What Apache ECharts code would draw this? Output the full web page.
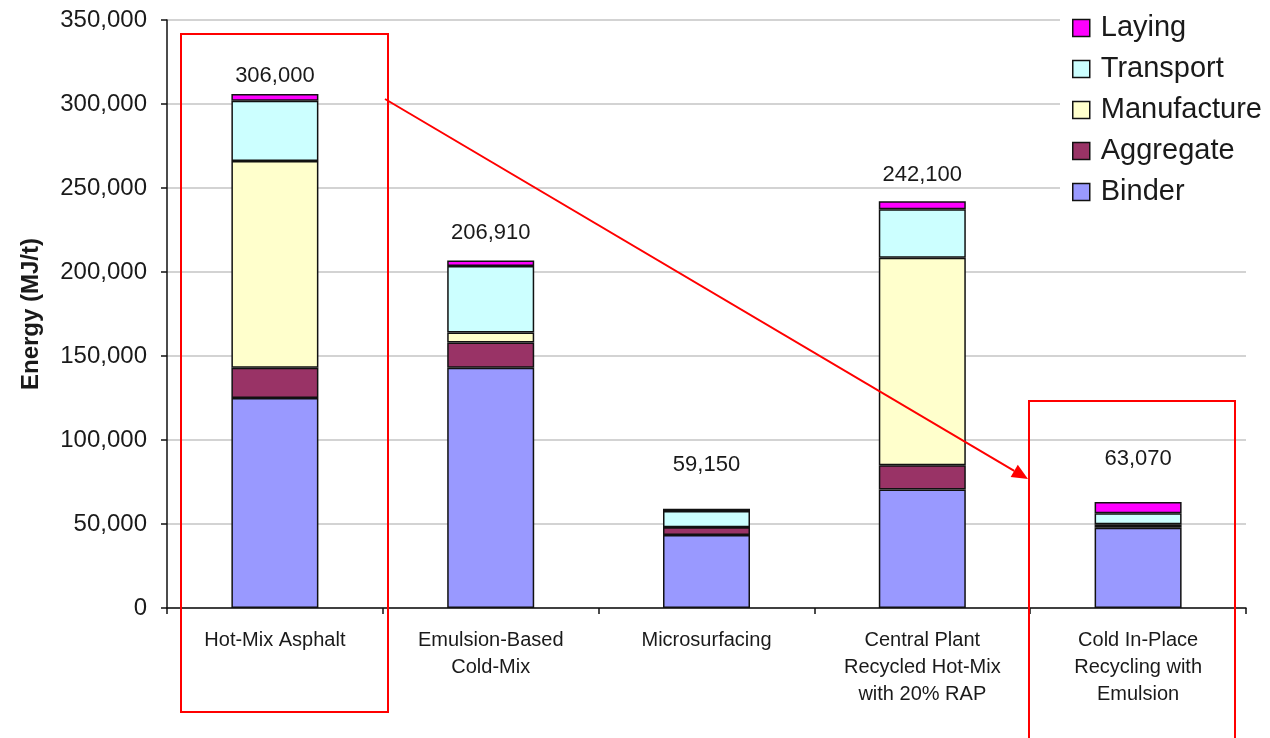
<!DOCTYPE html>
<html>
<head>
<meta charset="utf-8">
<title>Energy by pavement technique</title>
<script src="https://cdn.jsdelivr.net/npm/echarts@6/dist/echarts.min.js"></script>
<style>
  html, body { margin: 0; padding: 0; background: #fff; }
  #chart { width: 1270px; height: 738px; }
</style>
</head>
<body>
<div id="chart"></div>
<script>
// Pavement techniques (x categories)
const categories = [
  'Hot-Mix Asphalt',
  'Emulsion-Based\nCold-Mix',
  'Microsurfacing',
  'Central Plant\nRecycled Hot-Mix\nwith 20% RAP',
  'Cold In-Place\nRecycling with\nEmulsion'
];

// Energy components, MJ/t (stacked bottom to top)
const binder      = [125000, 143000, 43500, 70600, 47800];
const aggregate   = [ 18000,  15000,  4500, 14300,  1000];
const manufacture = [123000,   6000,     0, 123600, 1000];
const transport   = [ 36000,  39500,  9800, 28800,  6570];
const laying      = [  4000,   3410,  1350,  4800,  6700];

// Totals printed above each column
const totals = [306000, 206910, 59150, 242100, 63070];

// Y axis ticks
const yTicks = [0, 50000, 100000, 150000, 200000, 250000, 300000, 350000];

const colors = {
  Binder: '#9999FF',
  Aggregate: '#993366',
  Manufacture: '#FFFFCC',
  Transport: '#CCFFFF',
  Laying: '#FF00FF'
};

// Gap (px) between each column top and its total label
const totalLabelGap = [7, 16, 33, 15, 32];

const FONT = '"Liberation Sans", Arial, sans-serif';
const fmt = v => v.toLocaleString('en-US');

function stackSeries(name, data, withTotal) {
  const s = {
    name: name,
    type: 'bar',
    stack: 'energy',
    barWidth: 87,
    itemStyle: { color: colors[name], borderColor: '#111', borderWidth: 1.5 },
    emphasis: { disabled: true }
  };
  if (withTotal) {
    s.data = data.map((v, i) => ({
      value: v,
      label: {
        show: true,
        position: 'top',
        distance: totalLabelGap[i],
        color: '#1a1a1a',
        fontFamily: FONT,
        fontSize: 22,
        formatter: () => fmt(totals[i])
      }
    }));
  } else {
    s.data = data;
  }
  return s;
}

// Red annotation: two highlight boxes and an arrow between them
const arrowFrom = [385, 99];
const arrowTo = [1028, 479];
function arrowHead(from, to, len, half) {
  const dx = to[0] - from[0], dy = to[1] - from[1];
  const d = Math.hypot(dx, dy);
  const ux = dx / d, uy = dy / d;
  const bx = to[0] - ux * len, by = to[1] - uy * len;
  return {
    base: [bx, by],
    points: [to, [bx - uy * half, by + ux * half], [bx + uy * half, by - ux * half]]
  };
}
const head = arrowHead(arrowFrom, arrowTo, 16, 7);

const chart = echarts.init(document.getElementById('chart'), null, { renderer: 'canvas' });
chart.setOption({
  animation: false,
  backgroundColor: '#fff',
  textStyle: { fontFamily: FONT },
  grid: { left: 167, right: 24, top: 20, bottom: 130, containLabel: false },
  legend: {
    orient: 'vertical',
    left: 1060,
    top: 9,
    padding: [4, 2, 4, 12],
    backgroundColor: '#fff',
    itemWidth: 17,
    itemHeight: 17,
    itemGap: 11,
    icon: 'rect',
    itemStyle: { borderColor: '#111', borderWidth: 1.5 },
    textStyle: { fontFamily: FONT, fontSize: 29, color: '#1a1a1a', lineHeight: 30, padding: [0, 0, 0, 6] },
    data: ['Laying', 'Transport', 'Manufacture', 'Aggregate', 'Binder']
  },
  xAxis: {
    type: 'category',
    data: categories,
    boundaryGap: true,
    axisLine: { lineStyle: { color: '#111', width: 1.5 } },
    axisTick: { show: true, alignWithLabel: false, length: 6, lineStyle: { color: '#111', width: 1.5 } },
    axisLabel: {
      interval: 0,
      margin: 19,
      color: '#1a1a1a',
      fontFamily: FONT,
      fontSize: 20,
      lineHeight: 27
    }
  },
  yAxis: {
    type: 'value',
    min: yTicks[0],
    max: yTicks[yTicks.length - 1],
    interval: yTicks[1] - yTicks[0],
    name: 'Energy (MJ/t)',
    nameLocation: 'middle',
    nameGap: 124,
    nameTextStyle: { fontFamily: FONT, fontSize: 24, fontWeight: 'bold', color: '#1a1a1a' },
    axisLine: { show: true, lineStyle: { color: '#111', width: 1.5 } },
    axisTick: { show: true, length: 6, lineStyle: { color: '#111', width: 1.5 } },
    axisLabel: {
      margin: 20,
      color: '#1a1a1a',
      fontFamily: FONT,
      fontSize: 24,
      formatter: v => fmt(v)
    },
    splitLine: { show: true, lineStyle: { color: '#c4c4c4', width: 1.5 } }
  },
  series: [
    stackSeries('Binder', binder),
    stackSeries('Aggregate', aggregate),
    stackSeries('Manufacture', manufacture),
    stackSeries('Transport', transport),
    stackSeries('Laying', laying, true)
  ],
  graphic: [
    {
      type: 'rect', z: 100,
      shape: { x: 181, y: 34, width: 207, height: 678 },
      style: { fill: 'none', stroke: '#ff0000', lineWidth: 2 }
    },
    {
      type: 'rect', z: 100,
      shape: { x: 1029, y: 401, width: 206, height: 345 },
      style: { fill: 'none', stroke: '#ff0000', lineWidth: 2 }
    },
    {
      type: 'line', z: 100,
      shape: { x1: arrowFrom[0], y1: arrowFrom[1], x2: head.base[0], y2: head.base[1] },
      style: { stroke: '#ff0000', lineWidth: 2 }
    },
    {
      type: 'polygon', z: 100,
      shape: { points: head.points },
      style: { fill: '#ff0000' }
    }
  ]
});
</script>
</body>
</html>
